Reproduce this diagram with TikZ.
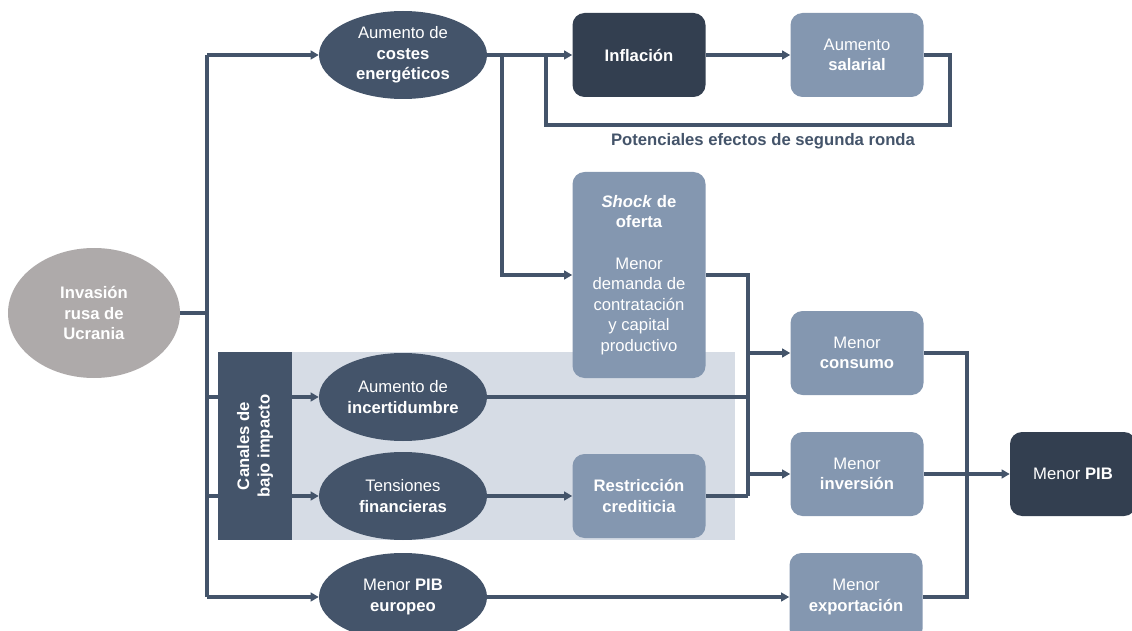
\documentclass[tikz,border=0pt]{standalone}
\usepackage{fontspec}
\setmainfont{Liberation Sans}
\usetikzlibrary{shapes.geometric,arrows.meta,calc}
\definecolor{slate}{HTML}{44546A}
\definecolor{darkslate}{HTML}{333F50}
\definecolor{lightbox}{HTML}{8497B0}
\definecolor{grayell}{HTML}{AEAAAA}
\definecolor{shadecol}{HTML}{D6DCE5}
\pgfdeclarelayer{bg}
\pgfdeclarelayer{lines}
\pgfsetlayers{bg,lines,main}
\begin{document}
\begin{tikzpicture}[x=0.75pt,y=-0.75pt,
  every node/.style={font=\fontsize{12.5}{15.4}\selectfont, align=center, text=white, inner sep=0pt},
  ell/.style={ellipse, fill=slate, minimum width=168*0.75pt, minimum height=88*0.75pt},
  grayel/.style={ellipse, fill=grayell, minimum width=172*0.75pt, minimum height=130*0.75pt},
  box/.style={rectangle, rounded corners=9pt, fill=lightbox, minimum width=133*0.75pt, minimum height=84*0.75pt},
  darkbox/.style={box, fill=darkslate},
  canal/.style={rectangle, fill=slate, rotate=90, minimum width=188*0.75pt, minimum height=74*0.75pt},
  shadebox/.style={rectangle, fill=shadecol, minimum width=517*0.75pt, minimum height=188*0.75pt},
  lbl/.style={text=slate, font=\fontsize{12.5}{15.4}\selectfont\bfseries},
  conn/.style={draw=slate, line width=2.4pt},
  arr/.style={conn, -{Triangle[length=6pt,width=6.5pt]}}]
\useasboundingbox (0,0) rectangle (1132,631);

\begin{pgfonlayer}{bg}
\node[shadebox] (shade) at (476,446) {};
\end{pgfonlayer}

% nodes
\node[grayel] (inv) at (94,313) {\textbf{Invasión}\\\textbf{rusa de}\\\textbf{Ucrania}};
\node[ell] (cost) at (403,55) {Aumento de\\\textbf{costes}\\\textbf{energéticos}};
\node[darkbox] (infl) at (639,55) {\textbf{Inflación}};
\node[box] (sal) at (857,55) {Aumento\\\textbf{salarial}};
\node[lbl] (pot) at (763,141) {Potenciales efectos de segunda ronda};
\node[box, minimum height=206*0.75pt] (shock) at (639,275)
  {\textbf{\textit{Shock} de}\\\textbf{oferta}\\[15.4pt]Menor\\demanda de\\contratación\\y capital\\productivo};
\node[box] (cons) at (857,353) {Menor\\\textbf{consumo}};
\node[box] (inver) at (857,474) {Menor\\\textbf{inversión}};
\node[box, minimum height=88*0.75pt] (expo) at (856,597) {Menor\\\textbf{exportación}};
\node[darkbox, minimum width=126*0.75pt] (pib) at (1073,474) {Menor \textbf{PIB}};
\node[canal] (can) at (255,446) {\textbf{Canales de}\\\textbf{bajo impacto}};
\node[ell] (inc) at (403,397) {Aumento de\\\textbf{incertidumbre}};
\node[ell] (ten) at (403,496) {Tensiones\\\textbf{financieras}};
\node[box] (res) at (639,496) {\textbf{Restricción}\\\textbf{crediticia}};
\node[ell] (eur) at (403,597) {Menor \textbf{PIB}\\\textbf{europeo}};

% junction coordinates
\coordinate (tA) at (207,55);
\coordinate (tB) at (207,313);
\coordinate (tC) at (207,397);
\coordinate (tD) at (207,496);
\coordinate (tE) at (207,597);
\coordinate (fb1) at (950,125);
\coordinate (fb2) at (546,125);
\coordinate (fb3) at (546,55);
\coordinate (s1) at (502,55);
\coordinate (bus) at (748,496);
\coordinate (rb) at (967,474);

\begin{pgfonlayer}{lines}
\draw[conn] (inv.east |- tB) -- (tB);
\draw[conn] (tA) -- (tE);
\draw[arr] (tA) -- (cost.west);
\draw[arr] (tC) -- (inc.west);
\draw[arr] (tD) -- (ten.west);
\draw[arr] (tE) -- (eur.west);
\draw[arr] (cost.east) -- (infl.west);
\draw[arr] (infl.east) -- (sal.west);
\draw[conn] (sal.east) -| (fb1) -- (fb2) -- (fb3);
\draw[arr] (s1) |- (shock.west);
\draw[conn] (shock.east) -| (bus);
\draw[conn] (res.east) -- (bus);
\draw[conn] (inc.east) -- (inc.east -| bus);
\draw[arr] (cons.west -| bus) -- (cons.west);
\draw[arr] (inver.west -| bus) -- (inver.west);
\draw[arr] (ten.east) -- (res.west);
\draw[arr] (eur.east) -- (expo.west);
\draw[conn] (cons.east) -| (rb);
\draw[conn] (expo.east) -| (rb);
\draw[arr] (inver.east) -- (pib.west);
\end{pgfonlayer}
\end{tikzpicture}
\end{document}
